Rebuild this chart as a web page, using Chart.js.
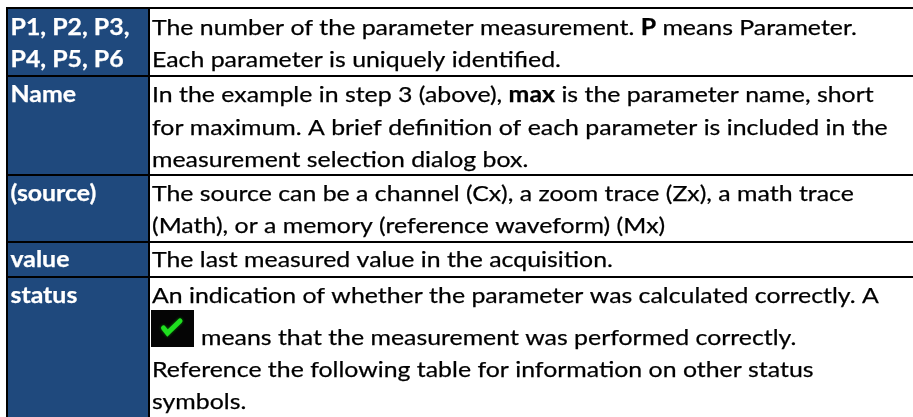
<!DOCTYPE html>
<html>
<head>
<meta charset="utf-8">
<script src="https://cdn.jsdelivr.net/npm/chart.js@4"></script>
<style>
    html, body { margin: 0; padding: 0; background: #fff; overflow: hidden; }
    canvas { display: block; }
</style>
</head>
<body>
<canvas id="myChart" width="913" height="417"></canvas>
<script>
// linhas da tabela
const rowEdges = [8, 76, 175, 242, 277, 417];
const colEdges = [7, 149, 913];

const rowLabels = [
    ["P1, P2, P3,", "P4, P5, P6"],
    ["Name"],
    ["(source)"],
    ["value"],
    ["status"]
];

// *texto* = negrito, @ = icone de status
const rowTexts = [
    ["The number of the parameter measurement. *P* means Parameter.",
     "Each parameter is uniquely identified."],
    ["In the example in step 3 (above), *max* is the parameter name, short",
     "for maximum. A brief definition of each parameter is included in the",
     "measurement selection dialog box."],
    ["The source can be a channel (Cx), a zoom trace (Zx), a math trace",
     "(Math), or a memory (reference waveform) (Mx)"],
    ["The last measured value in the acquisition."],
    ["An indication of whether the parameter was calculated correctly. A",
     "@ means that the measurement was performed correctly.",
     "Reference the following table for information on other status",
     "symbols."]
];

// base de cada linha de texto, em unidades do eixo y
const rowBaselines = [
    [35, 67],
    [102, 134.5, 167],
    [201, 233],
    [267],
    [303, 344.5, 377, 409]
];

const BLUE = "#1f497d";
const FONT_SIZE = 22;
const WIDEN = 1.13;

function drawRuns(ctx, line, x, y, size) {
    let parts = line.split("*");
    ctx.save();
    ctx.translate(x, y);
    ctx.scale(WIDEN, 1);
    ctx.strokeStyle = ctx.fillStyle;
    ctx.lineWidth = 0.25;
    let cx = 0;
    for (let i = 0; i < parts.length; i++) {
        ctx.font = (i % 2 == 1 ? "bold " : "") + size + "px Lato";
        ctx.fillText(parts[i], cx, 0);
        ctx.strokeText(parts[i], cx, 0);
        cx += ctx.measureText(parts[i]).width;
    }
    ctx.restore();
}

function drawCheck(ctx, xs, ys) {
    ctx.save();
    ctx.fillStyle = "#050505";
    ctx.fillRect(xs.getPixelForValue(151), ys.getPixelForValue(310), 43, 37);
    ctx.strokeStyle = "#1fe01f";
    ctx.shadowColor = "#0a7a0a";
    ctx.shadowBlur = 3;
    ctx.lineWidth = 5;
    ctx.lineCap = "round";
    ctx.lineJoin = "miter";
    ctx.beginPath();
    ctx.moveTo(xs.getPixelForValue(163.5), ys.getPixelForValue(328));
    ctx.lineTo(xs.getPixelForValue(167.5), ys.getPixelForValue(333));
    ctx.lineTo(xs.getPixelForValue(180), ys.getPixelForValue(321));
    ctx.stroke();
    ctx.restore();
}

const tableText = {
    id: "tableText",
    afterDatasetsDraw(chart) {
        const ctx = chart.ctx;
        const xs = chart.scales.x;
        const ys = chart.scales.y;
        ctx.save();
        ctx.textBaseline = "alphabetic";
        for (let i = 0; i < rowLabels.length; i++) {
            ctx.fillStyle = "#fff";
            rowLabels[i].forEach((txt, j) => {
                drawRuns(ctx, "*" + txt + "*", xs.getPixelForValue(10.5), ys.getPixelForValue(rowBaselines[i][j]), FONT_SIZE);
            });
            ctx.fillStyle = "#000";
            rowTexts[i].forEach((txt, j) => {
                let x = xs.getPixelForValue(152);
                if (txt[0] == "@") {
                    drawCheck(ctx, xs, ys);
                    txt = txt.substring(2);
                    x = xs.getPixelForValue(201);
                }
                drawRuns(ctx, txt, x, ys.getPixelForValue(rowBaselines[i][j]), FONT_SIZE);
            });
        }
        ctx.restore();
    }
};

function linha(x1, y1, x2, y2) {
    return {
        data: [{ x: x1, y: y1 }, { x: x2, y: y2 }],
        showLine: true,
        borderColor: "#000",
        borderWidth: 2,
        pointRadius: 0,
        fill: false
    };
}

// chart.js desenha o ultimo dataset primeiro, a coluna azul fica por ultimo aqui
const datasets = [];
for (let i = 0; i < rowEdges.length - 1; i++) {
    datasets.push(linha(colEdges[0] - 1, rowEdges[i], colEdges[2], rowEdges[i]));
}
datasets.push(linha(colEdges[0], rowEdges[0], colEdges[0], rowEdges[rowEdges.length - 1]));
datasets.push(linha(colEdges[1], rowEdges[0], colEdges[1], rowEdges[rowEdges.length - 1]));
datasets.push({
    data: [{ x: colEdges[0], y: rowEdges[0] }, { x: colEdges[1], y: rowEdges[0] }],
    showLine: true,
    borderWidth: 0,
    pointRadius: 0,
    backgroundColor: BLUE,
    fill: { value: rowEdges[rowEdges.length - 1] }
});

new Chart(document.getElementById("myChart").getContext("2d"), {
    type: "scatter",
    data: { datasets },
    plugins: [tableText],
    options: {
        responsive: false,
        animation: false,
        layout: { padding: 0 },
        plugins: { legend: { display: false }, tooltip: { enabled: false } },
        scales: {
            x: { type: "linear", min: 0, max: 913, display: false },
            y: { type: "linear", min: 0, max: 417, reverse: true, display: false }
        }
    }
});
</script>
</body>
</html>
